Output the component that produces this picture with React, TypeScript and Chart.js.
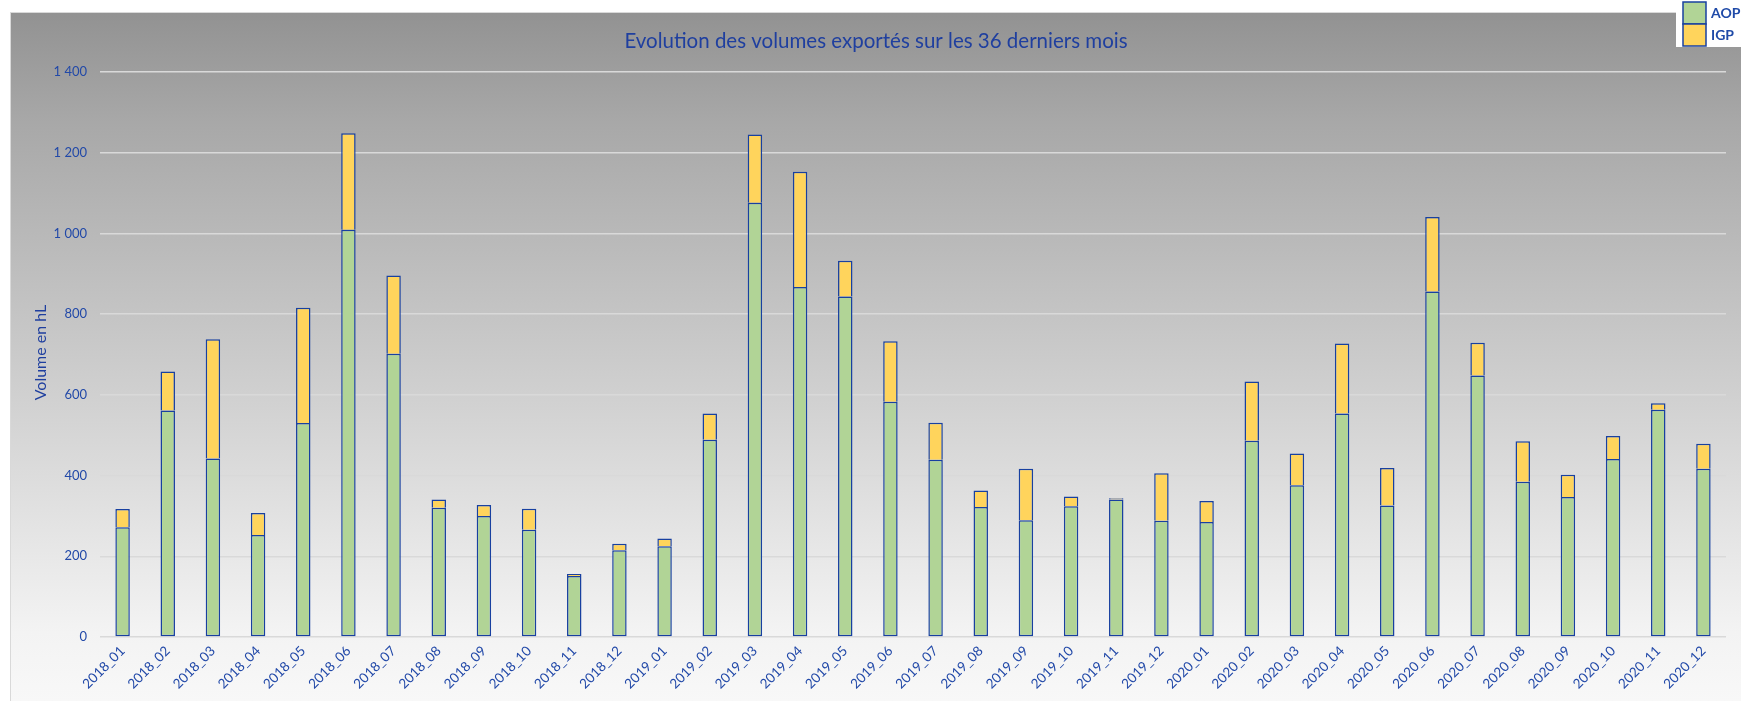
import React, { useEffect, useRef } from 'react';
import { Chart, registerables } from 'chart.js';

Chart.register(...registerables);

const categories = [
  '2018_01', '2018_02', '2018_03', '2018_04', '2018_05', '2018_06',
  '2018_07', '2018_08', '2018_09', '2018_10', '2018_11', '2018_12',
  '2019_01', '2019_02', '2019_03', '2019_04', '2019_05', '2019_06',
  '2019_07', '2019_08', '2019_09', '2019_10', '2019_11', '2019_12',
  '2020_01', '2020_02', '2020_03', '2020_04', '2020_05', '2020_06',
  '2020_07', '2020_08', '2020_09', '2020_10', '2020_11', '2020_12',
];

const aopValues = [
  272, 561, 442, 253, 530, 1009,
  702, 320, 300, 266, 151, 215,
  225, 489, 1076, 867, 844, 583,
  439, 322, 289, 324, 341, 288,
  285, 486, 376, 554, 326, 856,
  648, 385, 347, 441, 563, 417,
];

const igpValues = [
  45, 97, 296, 54, 286, 239,
  194, 21, 27, 52, 5, 16,
  19, 65, 169, 286, 88, 150,
  92, 41, 128, 24, 3, 118,
  52, 147, 79, 173, 93, 185,
  81, 100, 55, 57, 16, 62,
];

const seriesNames = ['AOP', 'IGP'];
const yMax = 1400;
const yStep = 200;
const chartTitle = 'Evolution des volumes exportés sur les 36 derniers mois';
const yAxisTitle = 'Volume en hL';

const GREEN = '#b1d496';
const YELLOW = '#ffd45c';
const BORDER = '#1840a0';
const TEXT_BLUE = '#2249a8';
const FONT = 'Lato, "Open Sans", sans-serif';

const fmt = (v: number) => String(v).replace(/\B(?=(\d{3})+(?!\d))/g, ' ');

const decorPlugin = {
  id: 'decor',
  beforeDraw(chart: any) {
    const { ctx, width, height } = chart;
    ctx.save();
    const g = ctx.createLinearGradient(0, 12, 0, height);
    g.addColorStop(0, '#929292');
    g.addColorStop(0.16, '#a8a8a8');
    g.addColorStop(0.9, '#f3f3f3');
    g.addColorStop(1, '#f8f8f8');
    ctx.fillStyle = '#ffffff';
    ctx.fillRect(0, 0, width, height);
    ctx.fillStyle = g;
    ctx.fillRect(10, 12, width - 10, height - 12);
    ctx.strokeStyle = '#d9d9d9';
    ctx.lineWidth = 1;
    ctx.strokeRect(10.5, 12.5, width - 10, height - 12);
    ctx.restore();
  },
  afterDraw(chart: any) {
    const { ctx, width, chartArea } = chart;
    ctx.save();
    ctx.fillStyle = '#1f3f9f';
    ctx.font = `20.5px ${FONT}`;
    ctx.textAlign = 'center';
    ctx.textBaseline = 'middle';
    ctx.fillText(chartTitle, 876, 41);
    ctx.save();
    ctx.translate(41, (chartArea.top + chartArea.bottom) / 2 - 2);
    ctx.rotate(-Math.PI / 2);
    ctx.font = `16px ${FONT}`;
    ctx.fillStyle = '#1f3f9f';
    ctx.fillText(yAxisTitle, 0, 0);
    ctx.restore();
    ctx.fillStyle = '#ffffff';
    ctx.fillRect(1676, 0, width - 1676, 47);
    chart.data.datasets.forEach((d: any, i: number) => {
      const y = 2 + i * 22;
      ctx.fillStyle = d.backgroundColor;
      ctx.fillRect(1683, y, 23, 22);
      ctx.strokeStyle = BORDER;
      ctx.lineWidth = 1.5;
      ctx.strokeRect(1683, y, 23, 22);
      ctx.fillStyle = '#1f4aa8';
      ctx.font = `bold 14px ${FONT}`;
      ctx.textAlign = 'left';
      ctx.textBaseline = 'middle';
      ctx.fillText(d.label, 1711, y + 11);
    });
    ctx.restore();
  },
};

export default function App() {
  const ref = useRef<HTMLCanvasElement | null>(null);

  useEffect(() => {
    if (!ref.current) return;
    const chart = new Chart(ref.current, {
      type: 'bar',
      data: {
        labels: categories,
        datasets: [
          {
            label: seriesNames[0],
            data: aopValues,
            backgroundColor: GREEN,
            borderColor: BORDER,
            borderWidth: 1.5,
            borderSkipped: false,
            categoryPercentage: 1,
            barPercentage: 0.32,
          },
          {
            label: seriesNames[1],
            data: igpValues,
            backgroundColor: YELLOW,
            borderColor: BORDER,
            borderWidth: { top: 1.5, left: 1.5, right: 1.5, bottom: 0 },
            borderSkipped: false,
            categoryPercentage: 1,
            barPercentage: 0.32,
          },
        ],
      },
      options: {
        responsive: false,
        animation: false,
        layout: { padding: { left: 10, right: 15, top: 72, bottom: 0 } },
        plugins: {
          legend: { display: false },
          title: { display: false },
          tooltip: { enabled: false },
        },
        scales: {
          x: {
            stacked: true,
            grid: { display: false, drawTicks: false },
            border: { display: false },
            ticks: {
              color: TEXT_BLUE,
              font: { family: FONT, size: 13.5 },
              maxRotation: 45,
              minRotation: 45,
              autoSkip: false,
              padding: 6,
            },
            afterFit: (s: any) => { s.height = 64; },
          },
          y: {
            stacked: true,
            min: 0,
            max: yMax,
            border: { display: false },
            grid: { color: '#d9d9d9', lineWidth: 1.5, drawTicks: false },
            ticks: {
              stepSize: yStep,
              color: TEXT_BLUE,
              font: { family: FONT, size: 13 },
              padding: 13,
              callback: (v: any) => fmt(Number(v)),
            },
            afterFit: (s: any) => { s.width = 90; },
          },
        },
      },
      plugins: [decorPlugin],
    });
    return () => chart.destroy();
  }, []);

  return (
    <div style={{ position: 'absolute', left: 0, top: 0, width: 1741, height: 701 }}>
      <canvas ref={ref} width={1741} height={701} />
    </div>
  );
}
